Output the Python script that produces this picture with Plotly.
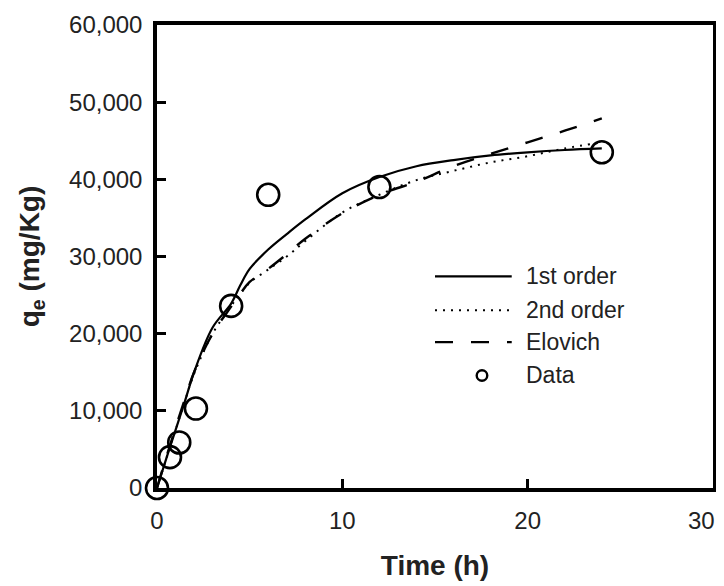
import plotly.graph_objects as go

# Observed data
t_data = [0, 0.7, 1.2, 2.1, 4, 6, 12, 24]
q_data = [0, 4000, 5900, 10300, 23600, 38000, 39000, 43500]

# Model curves
t_fit = [0, 0.5, 1, 1.5, 2, 3, 4, 4.5, 5, 6, 7, 8, 10, 12, 14, 16, 18, 20, 22, 24]
q_first = [0, 3800, 7500, 11200, 15000, 20800, 23900, 26300, 28400, 30900, 32900,
           34800, 38200, 40300, 41700, 42500, 43100, 43500, 43800, 44000]
q_second = [0, 3800, 7500, 11200, 14800, 20000, 23600, 25200, 26600, 28300, 30000,
            32000, 35700, 38000, 39900, 41100, 42200, 43000, 44000, 44800]
q_elovich = [0, 4000, 7800, 11500, 15000, 20000, 23500, 25200, 26700, 28400, 30300,
             32300, 35600, 38000, 39700, 41700, 43300, 44800, 46300, 47900]

x_ticks = [0, 10, 20, 30]
y_ticks = [0, 10000, 20000, 30000, 40000, 50000, 60000]

legend_labels = ["1st order", "2nd order", "Elovich", "Data"]

FONT = "Liberation Sans, Arial, sans-serif"
TXT = "#222222"

fig = go.Figure()
fig.add_trace(go.Scatter(x=t_fit, y=q_first, mode="lines", name=legend_labels[0],
                         line=dict(color="black", width=2.2, shape="spline", smoothing=1.0),
                         showlegend=False))
fig.add_trace(go.Scatter(x=t_fit, y=q_second, mode="lines", name=legend_labels[1],
                         line=dict(color="black", width=2, dash="2px,6px", shape="spline"),
                         showlegend=False))
fig.add_trace(go.Scatter(x=t_fit, y=q_elovich, mode="lines", name=legend_labels[2],
                         line=dict(color="black", width=2.4, dash="18px,18px", shape="spline"),
                         showlegend=False))
fig.add_trace(go.Scatter(x=t_data, y=q_data, mode="markers", name=legend_labels[3],
                         marker=dict(symbol="circle-open", size=22, color="black",
                                     line=dict(width=2.6, color="black")),
                         cliponaxis=False, showlegend=False))

# Manual legend (paper coordinates)
rows_y = [0.457, 0.384, 0.315, 0.243]
dashes = ["solid", "2px,6px", "18px,18px"]
widths = [2.2, 2, 2.4]
for i in range(3):
    fig.add_shape(type="line", xref="paper", yref="paper",
                  x0=0.50, x1=0.638, y0=rows_y[i], y1=rows_y[i],
                  line=dict(color="black", width=widths[i], dash=dashes[i]))
fig.add_shape(type="circle", xref="paper", yref="paper",
              x0=0.5845 - 0.0095, x1=0.5845 + 0.0095,
              y0=rows_y[3] - 0.0114, y1=rows_y[3] + 0.0114,
              line=dict(color="black", width=2.4))
for i, lab in enumerate(legend_labels):
    fig.add_annotation(xref="paper", yref="paper", x=0.66, y=rows_y[i],
                       text=lab, showarrow=False, xanchor="left", yanchor="middle",
                       font=dict(family=FONT, size=23, color=TXT))

# last x tick label is nudged left so it stays inside the window, as in the reference
x_ticktext = [str(v) for v in x_ticks[:-1]] + [""]
fig.add_annotation(xref="x", yref="paper", x=x_ticks[-1], y=0,
                   text=str(x_ticks[-1]), showarrow=False,
                   xanchor="right", yanchor="top", xshift=4, yshift=-17,
                   font=dict(family=FONT, size=24, color=TXT))

# page body has an 8px default margin, so the figure is sized to fit the window
fig.update_layout(
    width=716, height=578,
    margin=dict(l=149, r=11, t=17, b=98, autoexpand=False),
    paper_bgcolor="white", plot_bgcolor="white",
    font=dict(family=FONT, size=24, color=TXT),
    showlegend=False,
)
fig.update_xaxes(
    automargin=False,
    range=[0, 30], tickvals=x_ticks, ticktext=x_ticktext,
    showgrid=False, zeroline=False,
    showline=True, linecolor="black", linewidth=3.5, mirror=True,
    ticks="inside", ticklen=9, tickwidth=2.5, tickcolor="black",
    ticklabelstandoff=8,
    tickfont=dict(family=FONT, size=24, color=TXT),
    title=dict(text="<b>Time (h)</b>", standoff=24,
               font=dict(family=FONT, size=28, color=TXT)),
)
fig.update_yaxes(
    automargin=False,
    range=[0, 60000], tickvals=y_ticks, tickformat=",",
    showgrid=False, zeroline=False,
    showline=True, linecolor="black", linewidth=3.5, mirror=True,
    ticks="inside", ticklen=9, tickwidth=2.5, tickcolor="black",
    ticklabelstandoff=6,
    tickfont=dict(family=FONT, size=24, color=TXT),
    title=dict(text="<b>q<sub>e</sub> (mg/Kg)</b>", standoff=22,
               font=dict(family=FONT, size=28, color=TXT)),
)

fig.write_html("out.html")
